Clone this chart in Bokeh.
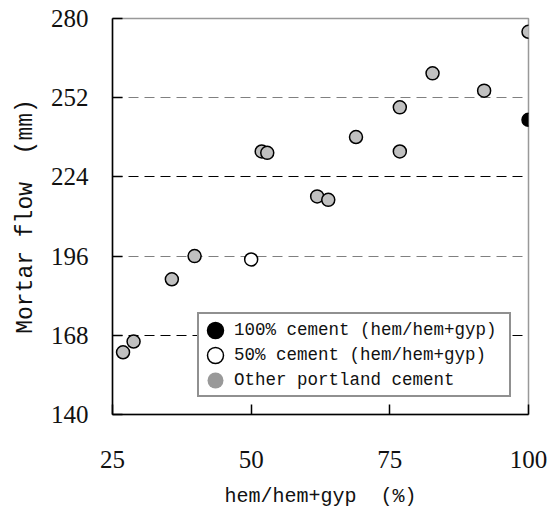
from bokeh.plotting import figure
from bokeh.models import Legend, LegendItem, FixedTicker, Grid, Range1d
from bokeh.embed import file_html
from bokeh.resources import INLINE

# hem/(hem+gyp) ratio (%) and mortar flow (mm)
other_ratio = [26.9, 28.8, 35.7, 39.8, 51.9, 52.9, 61.9, 63.9, 68.9, 76.8, 76.8, 82.7, 92.0, 100.0]
other_flow = [162.0, 165.8, 187.8, 196.0, 233.0, 232.5, 217.1, 215.9, 238.1, 248.6, 233.0, 260.6, 254.5, 275.3]
full_ratio = [100.0]
full_flow = [244.2]
half_ratio = [50.0]
half_flow = [194.8]

x_ticks = [25, 50, 75, 100]
y_ticks = [140, 168, 196, 224, 252, 280]
grid_gray = [196, 252]
grid_dark = [168, 224]

legend_labels = ["100% cement (hem/hem+gyp)",
                 "50% cement (hem/hem+gyp)",
                 "Other portland cement"]

SERIF = "Liberation Serif"
MONO = "Liberation Mono"

p = figure(width=550, height=510, output_backend="svg", toolbar_location=None,
           x_range=Range1d(25, 100), y_range=Range1d(140, 280),
           min_border_left=112, min_border_right=22, min_border_top=18,
           min_border_bottom=94)
p.background_fill_color = "white"
p.border_fill_color = "white"
p.outline_line_color = "#999999"
p.outline_line_width = 1.5

# dashed reference lines
p.xgrid.visible = False
p.ygrid.ticker = FixedTicker(ticks=grid_gray)
p.ygrid.grid_line_color = "#808080"
p.ygrid.grid_line_dash = "10 6"
p.ygrid.grid_line_width = 1
dark_grid = Grid(dimension=1, ticker=FixedTicker(ticks=grid_dark),
                 grid_line_color="black", grid_line_dash="10 6", grid_line_width=1)
p.add_layout(dark_grid)

# axes
for ax in (p.xaxis[0], p.yaxis[0]):
    ax.axis_line_color = "black"
    ax.axis_line_width = 1.5
    ax.major_tick_in = 10
    ax.major_tick_out = 0
    ax.major_tick_line_color = "black"
    ax.major_tick_line_width = 1.5
    ax.minor_tick_line_color = None
    ax.major_label_text_font = SERIF
    ax.major_label_text_font_size = "25px"
    ax.major_label_text_color = "#111111"
    ax.axis_label_text_font = MONO
    ax.axis_label_text_font_style = "normal"
    ax.axis_label_text_color = "#111111"

p.xaxis.ticker = FixedTicker(ticks=x_ticks)
p.xaxis.major_label_standoff = 36
p.xaxis.axis_label = "hem/hem+gyp\u00a0\u00a0(%)"
p.xaxis.axis_label_text_font_size = "20px"
p.xaxis.axis_label_standoff = 14

p.yaxis.ticker = FixedTicker(ticks=y_ticks)
p.yaxis.major_label_standoff = 24
p.yaxis.axis_label = "Mortar flow\u00a0\u00a0(mm)"
p.yaxis.axis_label_text_font_size = "23px"
p.yaxis.axis_label_standoff = 9

# legend swatch for the other cements: a flat grey disc tucked under each point
other_swatch = p.ellipse(other_ratio, other_flow, width=9, height=9,
                         width_units="screen", height_units="screen",
                         fill_color="#999999", line_color=None)

# data points
mk = dict(width=13, height=13, width_units="screen", height_units="screen",
          line_color="black", line_width=1.5)
p.ellipse(other_ratio, other_flow, fill_color="#c0c0c0", **mk)
half_r = p.ellipse(half_ratio, half_flow, fill_color="white", **mk)
full_r = p.ellipse(full_ratio, full_flow, fill_color="black", **mk)

legend = Legend(items=[LegendItem(label=legend_labels[0], renderers=[full_r]),
                       LegendItem(label=legend_labels[1], renderers=[half_r]),
                       LegendItem(label=legend_labels[2], renderers=[other_swatch])],
                location=(85, 17), orientation="vertical",
                glyph_width=26, glyph_height=20, label_height=25, spacing=0,
                padding=3, margin=0, label_standoff=6, label_width=272,
                label_text_font=MONO, label_text_font_size="17.5px",
                label_text_color="#111111",
                border_line_color="#222222", border_line_width=2,
                background_fill_color="white", background_fill_alpha=1)
p.add_layout(legend, "center")

open("out.html", "w").write(file_html(p, INLINE))
